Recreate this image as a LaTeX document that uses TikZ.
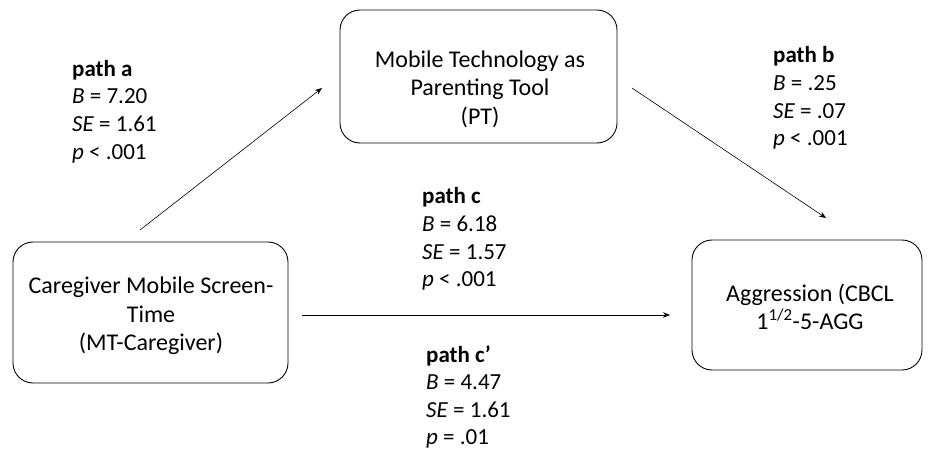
\documentclass[tikz,border=0pt]{standalone}
\usepackage{fontspec}
\setmainfont{Carlito}
\usetikzlibrary{arrows.meta}
\begin{document}
\begin{tikzpicture}[x=1pt,y=-1pt,
  box/.style={draw, line width=0.9pt, rounded corners=20pt, inner sep=0pt},
  txt/.style={font=\fontsize{24}{28.5}\selectfont, align=center, inner sep=0pt},
  lab/.style={font=\fontsize{23}{27.6}\selectfont, align=left, inner sep=0pt, anchor=west},
  arr/.style={-{Stealth[length=7pt,width=5.5pt]}, line width=0.6pt}]
\useasboundingbox (0,0) rectangle (935,452);
% boxes
\node[box, minimum width=277pt, minimum height=133pt] (pt) at (478.5,76.5) {};
\node[txt] (ptt) at (480,89) {Mobile Technology as\\Parenting Tool\\(PT)};
\node[box, minimum width=275pt, minimum height=141pt] (mt) at (150.5,312.5) {};
\node[txt] (mtt) at (151,316) {Caregiver Mobile Screen-\\Time\\(MT-Caregiver)};
\node[box, minimum width=230pt, minimum height=130pt] (agg) at (807,305) {};
\node[txt] (aggt) at (810,307) {Aggression (CBCL\\1\textsuperscript{1/2}-5-AGG};
% labels
\node[lab] (la) at (72,111.5) {\textbf{path a}\\\textit{B} = 7.20\\\textit{SE} = 1.61\\\textit{p} < .001};
\node[lab] (lb) at (773,98) {\textbf{path b}\\\textit{B} = .25\\\textit{SE} = .07\\\textit{p} < .001};
\node[lab] (lc) at (422,239) {\textbf{path c}\\\textit{B} = 6.18\\\textit{SE} = 1.57\\\textit{p} < .001};
\node[lab] (lcp) at (426,397) {\textbf{path c’}\\\textit{B} = 4.47\\\textit{SE} = 1.61\\\textit{p} = .01};
% connectors
\coordinate (a1) at (140,230); \coordinate (a2) at (322,88);
\coordinate (b1) at (632,88); \coordinate (b2) at (826,218);
\coordinate (c1) at (302,315); \coordinate (c2) at (670,315);
\draw[arr] (a1) -- (a2);
\draw[arr] (b1) -- (b2);
\draw[arr] (c1) -- (c2);
\end{tikzpicture}
\end{document}
